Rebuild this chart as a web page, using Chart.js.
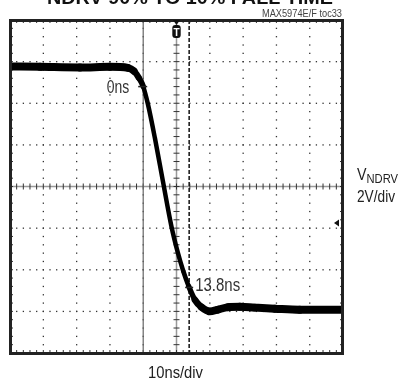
<!DOCTYPE html>
<html>
<head>
<meta charset="utf-8">
<script src="https://cdn.jsdelivr.net/npm/chart.js@4.4.0/dist/chart.umd.min.js"></script>
<style>
  body { margin: 0; background: #fff; }
  canvas { display: block; }
</style>
</head>
<body>
<canvas id="scope" width="399" height="381"></canvas>
<script>
// NDRV falling edge, 10ns/div horizontal, 2V/div vertical (t = 0 at first cursor)
const timeNs = [-40, -31, -19, -10, -4.6, -2.8, -1.3, 0, 1.4, 3.5, 5.9, 8.5, 10.4, 12.0, 13.7, 15.5, 17.5, 20.0, 22.4, 25.4, 29.0, 33.5, 39.5, 47.0, 60.0];
const volts = [5.77, 5.75, 5.72, 5.75, 5.70, 5.55, 5.22, 4.81, 3.97, 2.34, 0.27, -1.93, -3.18, -4.05, -4.81, -5.44, -5.80, -6.0, -5.92, -5.80, -5.78, -5.82, -5.87, -5.92, -5.92];

const cursorTimes = [0, 13.8];
const cursorLevels = [4.8, -4.85];
const cursorLabels = ["0ns", "13.8ns"];

const xRange = [-40, 60]; // 10 divisions
const yRange = [-8, 8];   // 8 divisions
const triggerTime = 10;
const groundLevel = -1.75;

const FONT = 'Liberation Sans, Arial, sans-serif';

function fitText(ctx, str, x0, x1, base, font, color) {
  ctx.save();
  ctx.font = font;
  ctx.fillStyle = color;
  ctx.textAlign = 'left';
  ctx.textBaseline = 'alphabetic';
  const m = ctx.measureText(str).width;
  ctx.translate(x0, base);
  ctx.scale((x1 - x0) / m, 1);
  ctx.fillText(str, 0, 0);
  ctx.restore();
}

function seg(ctx, x0, y0, x1, y1) {
  ctx.beginPath();
  ctx.moveTo(x0, y0);
  ctx.lineTo(x1, y1);
  ctx.stroke();
}

const scopePlugin = {
  id: 'scope',
  beforeDatasetsDraw(chart) {
    const {ctx, chartArea: a, scales: {x, y}} = chart;
    const xDiv = (xRange[1] - xRange[0]) / 10, yDiv = (yRange[1] - yRange[0]) / 8;
    ctx.save();

    // dotted graticule
    ctx.fillStyle = '#333';
    for (let k = 1; k < 10; k++) {
      if (k === 5) continue;
      const gx = x.getPixelForValue(xRange[0] + k * xDiv);
      for (let j = 1; j < 40; j++) {
        const gy = y.getPixelForValue(yRange[0] + j * yDiv / 5);
        ctx.fillRect(gx - 0.6, gy - 0.6, 1.3, 1.3);
      }
    }
    for (let m = 1; m < 8; m++) {
      if (m === 4) continue;
      const gy = y.getPixelForValue(yRange[0] + m * yDiv);
      for (let i = 1; i < 50; i++) {
        const gx = x.getPixelForValue(xRange[0] + i * xDiv / 5);
        ctx.fillRect(gx - 0.6, gy - 0.6, 1.3, 1.3);
      }
    }

    // centre axes with minor ticks
    const cx = x.getPixelForValue(xRange[0] + 5 * xDiv);
    const cy = y.getPixelForValue(yRange[0] + 4 * yDiv);
    ctx.strokeStyle = '#999';
    ctx.lineWidth = 1.5;
    seg(ctx, a.left, cy, a.right, cy);
    seg(ctx, cx, a.top, cx, a.bottom);
    ctx.strokeStyle = '#333';
    ctx.lineWidth = 1;
    for (let i = 1; i < 50; i++) {
      const gx = x.getPixelForValue(xRange[0] + i * xDiv / 5);
      seg(ctx, gx, cy - 3, gx, cy + 3);
      seg(ctx, gx, a.top, gx, a.top + 3);
      seg(ctx, gx, a.bottom - 3, gx, a.bottom);
    }
    for (let j = 1; j < 40; j++) {
      const gy = y.getPixelForValue(yRange[0] + j * yDiv / 5);
      seg(ctx, cx - 3, gy, cx + 3, gy);
      seg(ctx, a.left, gy, a.left + 3, gy);
      seg(ctx, a.right - 3, gy, a.right, gy);
    }

    // cursors
    const c0 = x.getPixelForValue(cursorTimes[0]);
    const c1 = x.getPixelForValue(cursorTimes[1]);
    ctx.strokeStyle = '#666';
    ctx.lineWidth = 1.2;
    seg(ctx, c0, a.top, c0, a.bottom);
    ctx.strokeStyle = '#111';
    ctx.lineWidth = 1.5;
    ctx.setLineDash([4, 2]);
    seg(ctx, c1, a.top, c1, a.bottom);
    ctx.setLineDash([]);
    ctx.restore();
  },
  afterDatasetsDraw(chart) {
    const {ctx, chartArea: a, scales: {x, y}} = chart;
    ctx.save();

    // cursor crossing marks and labels
    ctx.strokeStyle = '#222';
    ctx.lineWidth = 1.5;
    const p0x = x.getPixelForValue(cursorTimes[0]), p0y = y.getPixelForValue(cursorLevels[0]);
    const p1x = x.getPixelForValue(cursorTimes[1]), p1y = y.getPixelForValue(cursorLevels[1]);
    seg(ctx, p0x - 5, p0y, p0x + 4, p0y);
    seg(ctx, p1x - 4, p1y, p1x + 4, p1y);
    fitText(ctx, cursorLabels[0], p0x - 36.5, p0x - 14, p0y + 6.5, '18px ' + FONT, '#333');
    fitText(ctx, cursorLabels[1], p1x + 6, p1x + 51, p1y + 4, '18px ' + FONT, '#333');

    // frame
    ctx.strokeStyle = '#222';
    ctx.lineWidth = 3;
    ctx.strokeRect(a.left + 0.5, a.top + 0.5, a.right - a.left - 1, a.bottom - a.top);

    // trigger marker
    const tx = x.getPixelForValue(triggerTime);
    ctx.fillStyle = '#111';
    ctx.beginPath();
    ctx.moveTo(tx - 3.5, a.top);
    ctx.lineTo(tx + 3.5, a.top);
    ctx.lineTo(tx, a.top + 5);
    ctx.closePath();
    ctx.fill();
    ctx.beginPath();
    ctx.roundRect(tx - 4.2, a.top + 5, 8.4, 13, 3);
    ctx.fill();
    ctx.fillStyle = '#fff';
    ctx.font = 'bold 10px ' + FONT;
    ctx.textAlign = 'center';
    ctx.fillText('T', tx, a.top + 15.5);

    // ground marker
    const gy = y.getPixelForValue(groundLevel);
    ctx.fillStyle = '#111';
    ctx.beginPath();
    ctx.moveTo(a.right - 9, gy);
    ctx.lineTo(a.right - 4, gy - 3.5);
    ctx.lineTo(a.right - 4, gy + 3.5);
    ctx.closePath();
    ctx.fill();

    // texts
    fitText(ctx, 'NDRV 90% TO 10% FALL TIME', 47, 333, 3.5, 'bold 18px ' + FONT, '#111');
    fitText(ctx, 'MAX5974E/F toc33', 262, 342, 17, '10px ' + FONT, '#444');
    fitText(ctx, '10ns/div', 148, 203, 378, '17px ' + FONT, '#222');
    fitText(ctx, 'V', 357, 366.5, 180, '17px ' + FONT, '#222');
    fitText(ctx, 'NDRV', 366.5, 398, 183, '13px ' + FONT, '#222');
    fitText(ctx, '2V/div', 357, 395, 202, '17px ' + FONT, '#222');
    ctx.restore();
  }
};

new Chart(document.getElementById('scope'), {
  type: 'line',
  data: {
    datasets: [{
      data: timeNs.map((t, i) => ({x: t, y: volts[i]})),
      borderColor: '#000',
      borderWidth: 8,
      pointRadius: 0,
      cubicInterpolationMode: 'monotone',
      borderCapStyle: 'round',
      borderJoinStyle: 'round',
      segment: {
        borderWidth: c => {
          const s = Math.abs((c.p1.y - c.p0.y) / (c.p1.x - c.p0.x));
          return Math.max(4.5, 8 - 1.2 * s);
        }
      }
    }]
  },
  options: {
    responsive: false,
    animation: false,
    events: [],
    layout: { padding: { left: 10, top: 20, right: 56, bottom: 28 } },
    plugins: { legend: { display: false }, tooltip: { enabled: false } },
    scales: {
      x: { type: 'linear', min: xRange[0], max: xRange[1], display: false },
      y: { min: yRange[0], max: yRange[1], display: false }
    }
  },
  plugins: [scopePlugin]
});
</script>
</body>
</html>
